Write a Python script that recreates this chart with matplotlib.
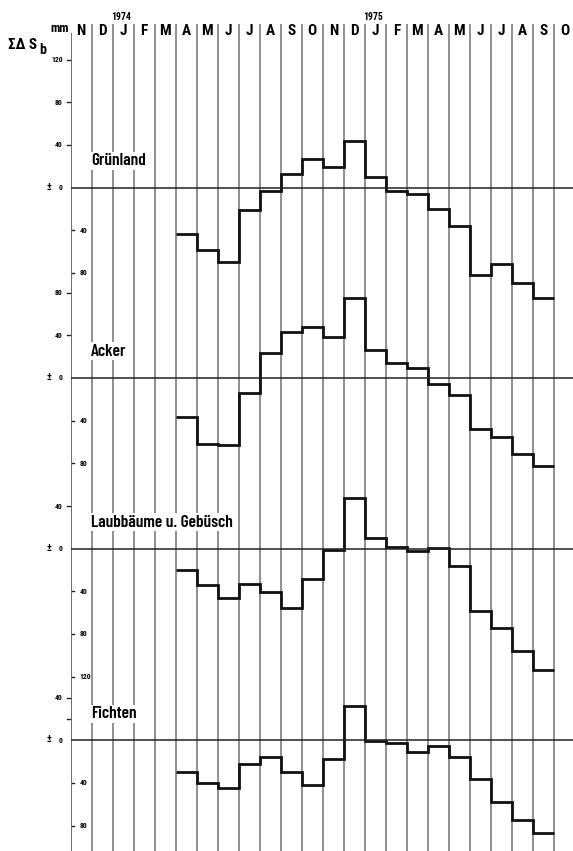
import numpy as np
import matplotlib
matplotlib.use("Agg")
import matplotlib.pyplot as plt

# Month columns, November 1973 to October 1975
months = ["N", "D", "J", "F", "M", "A", "M", "J", "J", "A", "S", "O",
          "N", "D", "J", "F", "M", "A", "M", "J", "J", "A", "S", "O"]
years = ["1974", "1975"]
year_cols = [2, 14]
first_col = 5  # series start in April 1974

# Cumulated soil water storage change (mm), April 1974 .. September 1975
gruenland = [-44, -59, -70, -21, -3, 13, 27, 19, 44, 10, -3, -6, -20, -36, -82, -72, -90, -104]
acker = [-37, -62, -63, -14, 23, 43, 48, 38, 75, 26, 14, 9, -6, -16, -48, -55, -71, -83]
laubbaeume = [-20, -34, -46, -33, -41, -56, -28, -1.5, 48, 10, 2, -2, 1, -16, -58, -74, -96, -114]
fichten = [-30, -40, -45, -22, -16, -30, -42, -18, 32, -1, -3, -11, -5, -16, -36, -58, -75, -87]

panel_names = ["Grünland", "Acker", "Laubbäume u. Gebüsch", "Fichten"]
panel_series = [gruenland, acker, laubbaeume, fichten]
ticks_above = [[120, 80, 40], [80, 40], [40], [40]]
ticks_below = [[40, 80], [40, 80], [40, 80, 120], [40, 80]]
minor_above = [[], [], [], [20]]

# ---- layout (pixels) ----
W, H, DPI = 573, 851, 100
x_axis = 70.7
col_w = 21.01
mm_px = 1.066
zero_px = [187.5, 378.0, 548.7, 740.3]
ylims = [(-112, 130), (-92, 90), (-125, 50), (-106, 50)]

FONT = ["Roboto Condensed", "Archivo Narrow", "PT Sans Narrow", "Barlow Condensed",
        "DejaVu Sans"]
TITLE_FONT = ["Barlow Condensed", "Roboto Condensed", "DejaVu Sans"]
GRID = "#727272"

fig = plt.figure(figsize=(W / DPI, H / DPI), dpi=DPI)
fig.patch.set_facecolor("white")
xmax = (W - x_axis) / col_w
ax_left = x_axis / W
ax_w = 1 - ax_left

# background: month grid and header
bg = fig.add_axes([ax_left, 0, ax_w, 1])
bg.set_xlim(0, xmax)
bg.set_ylim(H, 0)
bg.axis("off")
bg.vlines(np.arange(1, len(months)), 24, H, color=GRID, lw=1.1)
bg.vlines([0], 33, H, color="#555555", lw=1.2)
for i, m in enumerate(months):
    bg.text(i + 0.5, 31, m, ha="center", va="center", fontsize=11,
            fontweight="bold", family=FONT)
for y, c in zip(years, year_cols):
    bg.text(c + 0.4, 17, y, ha="center", va="center", fontsize=7,
            fontweight="bold", family=FONT)

fig.text(60 / W, 1 - 28 / H, "mm", ha="center", va="center", fontsize=9,
         fontweight="bold", family=FONT)
fig.text(8 / W, 1 - 45 / H, "ΣΔ S", ha="left", va="center", fontsize=11,
         fontweight="bold", family=FONT)
fig.text(39 / W, 1 - 50 / H, "b", ha="left", va="center", fontsize=10,
         fontweight="bold", family=FONT)

edges = np.arange(first_col, first_col + len(gruenland) + 1)
wpx = W - x_axis

for k in range(4):
    lo, hi = ylims[k]
    z = zero_px[k]
    top = z - hi * mm_px
    bot = z - lo * mm_px
    ax = fig.add_axes([ax_left, 1 - bot / H, ax_w, (bot - top) / H])
    ax.set_xlim(0, xmax)
    ax.set_ylim(lo, hi)
    ax.axis("off")
    ax.patch.set_alpha(0)

    ax.axhline(0, color="#222222", lw=1.1)
    ax.stairs(panel_series[k], edges, baseline=None, color="#111111", lw=2.0)

    ax.text(0.98, 25, panel_names[k], ha="left", va="center", fontsize=12.5,
            fontweight="semibold", family=TITLE_FONT,
            bbox=dict(facecolor="white", edgecolor="none", pad=1.0))

    ytr = ax.get_yaxis_transform()
    for v in ticks_above[k] + minor_above[k]:
        ax.plot([-4 / wpx, -1 / wpx], [v, v], transform=ytr, color="#222222",
                lw=1.0, clip_on=False)
    for v in ticks_above[k]:
        ax.annotate(str(v), xy=(0, v), xycoords=("axes fraction", "data"),
                    xytext=(-8, 0), textcoords="offset pixels", ha="right",
                    va="center", fontsize=5.5, fontweight="bold", family=FONT)
    for v in ticks_below[k]:
        ax.plot([1 / wpx, 3 / wpx], [-v, -v], transform=ytr, color="#222222",
                lw=1.0, clip_on=False)
        ax.annotate(str(v), xy=(0, -v), xycoords=("axes fraction", "data"),
                    xytext=(9, 0), textcoords="offset pixels", ha="left",
                    va="center", fontsize=5.5, fontweight="bold", family=FONT)
    ax.annotate("±", xy=(0, 0), xycoords=("axes fraction", "data"),
                xytext=(-22, 1), textcoords="offset pixels", ha="center",
                va="center", fontsize=7.5, fontweight="bold", family=FONT)
    ax.annotate("0", xy=(0, 0), xycoords=("axes fraction", "data"),
                xytext=(-8, 0), textcoords="offset pixels", ha="right",
                va="center", fontsize=5.5, fontweight="bold", family=FONT)

fig.savefig("out.png", dpi=DPI, facecolor="white")
